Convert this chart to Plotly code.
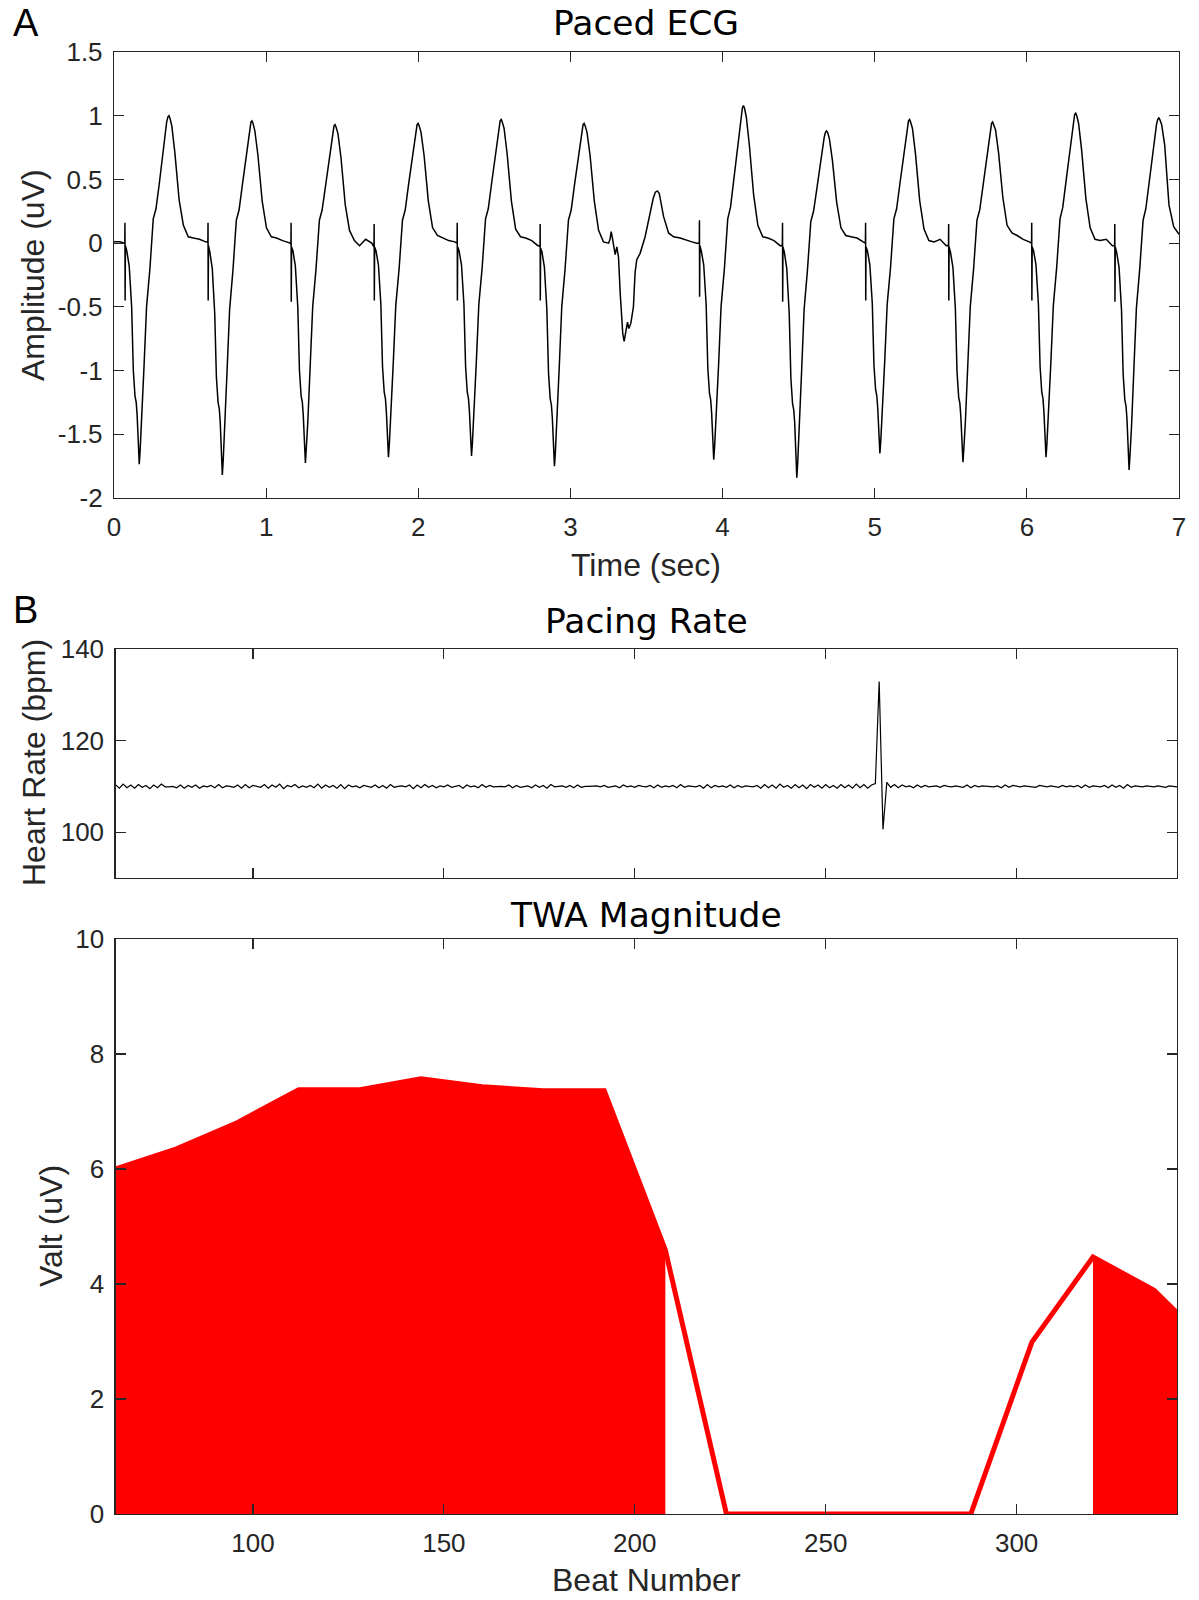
import plotly.graph_objects as go

# ---------------- Panel A: paced ECG ----------------
# pacing-spike times (s) of the paced beats
spike_times = [0.072, 0.618, 1.164, 1.710, 2.256, 2.801, 3.848, 4.394, 4.940, 5.486, 6.032, 6.578]
# sample offsets (s) relative to each pacing spike
ecg_dt = [-0.006, -0.001, 0.000, 0.001, 0.003, 0.012, 0.028, 0.044, 0.055, 0.066, 0.074,
          0.080, 0.088, 0.094, 0.100, 0.110, 0.126, 0.142, 0.164, 0.186, 0.204, 0.226, 0.248,
          0.262, 0.274, 0.282, 0.289, 0.296, 0.308, 0.328, 0.356, 0.384, 0.416, 0.450, 0.490, 0.530]
# amplitude (uV) of each beat at those offsets
beat_1 = [0.0, 0.0, 0.16, -0.45, -0.02, -0.06, -0.18, -0.50, -1.00, -1.20, -1.25, -1.35, -1.58, -1.735, -1.62, -1.40, -0.95, -0.50, -0.20, 0.19, 0.27, 0.47, 0.69, 0.84, 0.95, 0.99, 1.00, 0.98, 0.92, 0.71, 0.34, 0.14, 0.05, 0.04, 0.03, 0.01]
beat_2 = [0.01, 0.0, 0.16, -0.45, -0.02, -0.07, -0.20, -0.55, -1.05, -1.25, -1.30, -1.40, -1.65, -1.82, -1.70, -1.46, -0.98, -0.52, -0.21, 0.18, 0.26, 0.46, 0.66, 0.80, 0.91, 0.95, 0.96, 0.94, 0.88, 0.69, 0.33, 0.12, 0.05, 0.04, 0.02, 0.0]
beat_3 = [0.0, -0.01, 0.16, -0.46, -0.03, -0.06, -0.18, -0.50, -1.00, -1.20, -1.25, -1.35, -1.57, -1.725, -1.61, -1.40, -0.95, -0.50, -0.20, 0.18, 0.26, 0.45, 0.64, 0.78, 0.88, 0.92, 0.93, 0.91, 0.86, 0.67, 0.30, 0.10, 0.02, -0.02, 0.03, 0.0]
beat_4 = [-0.02, -0.01, 0.15, -0.45, -0.03, -0.06, -0.17, -0.48, -0.97, -1.17, -1.22, -1.32, -1.54, -1.68, -1.57, -1.36, -0.93, -0.49, -0.20, 0.18, 0.26, 0.46, 0.65, 0.79, 0.89, 0.93, 0.94, 0.92, 0.87, 0.69, 0.33, 0.12, 0.06, 0.04, 0.02, 0.01]
beat_5 = [0.0, 0.0, 0.16, -0.45, -0.03, -0.06, -0.17, -0.48, -0.97, -1.17, -1.22, -1.32, -1.53, -1.67, -1.56, -1.35, -0.92, -0.48, -0.19, 0.19, 0.27, 0.47, 0.67, 0.82, 0.92, 0.96, 0.97, 0.95, 0.90, 0.70, 0.33, 0.11, 0.05, 0.04, 0.02, -0.02]
beat_6 = [-0.02, -0.03, 0.15, -0.45, -0.04, -0.07, -0.19, -0.52, -1.02, -1.22, -1.27, -1.37, -1.60, -1.75, -1.64, -1.42, -0.96, -0.50, -0.20, 0.18, 0.26, 0.46, 0.65, 0.79, 0.89, 0.93, 0.94, 0.92, 0.87, 0.69, 0.33, 0.10, 0.01, 0.0]
beat_7 = [0.0, 0.0, 0.18, -0.42, -0.02, -0.06, -0.17, -0.48, -0.98, -1.18, -1.23, -1.33, -1.56, -1.70, -1.59, -1.38, -0.95, -0.50, -0.20, 0.19, 0.28, 0.50, 0.73, 0.89, 1.01, 1.06, 1.08, 1.06, 0.99, 0.77, 0.38, 0.14, 0.05, 0.04, 0.02, -0.02]
beat_8 = [-0.02, -0.01, 0.16, -0.46, -0.03, -0.07, -0.20, -0.55, -1.06, -1.26, -1.31, -1.41, -1.67, -1.84, -1.72, -1.48, -0.99, -0.52, -0.21, 0.17, 0.25, 0.43, 0.62, 0.75, 0.83, 0.87, 0.88, 0.87, 0.82, 0.65, 0.32, 0.12, 0.06, 0.05, 0.04, 0.01]
beat_9 = [0.0, 0.0, 0.16, -0.45, -0.03, -0.06, -0.17, -0.47, -0.96, -1.15, -1.20, -1.30, -1.51, -1.65, -1.55, -1.34, -0.92, -0.48, -0.19, 0.19, 0.27, 0.47, 0.67, 0.82, 0.92, 0.96, 0.97, 0.95, 0.90, 0.70, 0.33, 0.11, 0.02, 0.01, 0.03, -0.02]
beat_10 = [-0.02, -0.01, 0.15, -0.45, -0.03, -0.07, -0.19, -0.51, -1.01, -1.21, -1.26, -1.36, -1.58, -1.72, -1.61, -1.40, -0.95, -0.50, -0.20, 0.18, 0.26, 0.46, 0.66, 0.80, 0.90, 0.94, 0.95, 0.93, 0.89, 0.71, 0.36, 0.14, 0.08, 0.06, 0.03, 0.01]
beat_11 = [0.0, 0.0, 0.16, -0.45, -0.03, -0.06, -0.17, -0.48, -0.97, -1.17, -1.22, -1.32, -1.54, -1.68, -1.57, -1.36, -0.93, -0.49, -0.19, 0.19, 0.28, 0.49, 0.70, 0.85, 0.96, 1.01, 1.02, 1.00, 0.94, 0.73, 0.35, 0.12, 0.03, 0.02, 0.03, -0.02]
beat_12 = [-0.02, -0.02, 0.15, -0.46, -0.03, -0.07, -0.19, -0.52, -1.03, -1.23, -1.28, -1.38, -1.62, -1.78, -1.66, -1.44, -0.97, -0.51, -0.20, 0.18, 0.27, 0.48, 0.68, 0.83, 0.93, 0.97, 0.985, 0.97, 0.93, 0.77, 0.30]
paced_beats = [beat_1, beat_2, beat_3, beat_4, beat_5, beat_6, beat_7, beat_8, beat_9, beat_10, beat_11, beat_12]

# leading baseline, ectopic (non-paced) beat and trailing samples
lead_t = [0.0, 0.04]
lead_v = [0.01, 0.01]
ectopic_t = [3.260, 3.268, 3.276, 3.283, 3.294, 3.305, 3.316, 3.327, 3.344, 3.353, 3.366, 3.375,
             3.384, 3.397, 3.414, 3.425, 3.436, 3.458, 3.491, 3.524, 3.544, 3.558, 3.572, 3.584,
             3.598, 3.612, 3.645, 3.678, 3.721, 3.765, 3.798, 3.831]
ectopic_v = [0.03, 0.09, 0.04, 0.0, -0.09, -0.03, -0.11, -0.39, -0.71, -0.77, -0.66, -0.62,
             -0.67, -0.63, -0.50, -0.23, -0.13, -0.08, 0.05, 0.24, 0.35, 0.40, 0.41, 0.39,
             0.31, 0.21, 0.08, 0.05, 0.04, 0.02, 0.01, 0.0]
tail_t = [6.965, 7.0]
tail_v = [0.13, 0.07]

# ---------------- Panel B: pacing rate ----------------
rate_beats = list(range(64, 343))
heart_rate = [
    110.4, 109.6, 110.5, 109.7, 110.3, 109.6, 110.4, 109.8, 110.2, 109.5,
    110.3, 109.7, 110.5, 109.9, 109.9, 110.0, 109.7, 110.3, 109.6, 110.2,
    109.8, 110.3, 109.6, 110.1, 109.9, 110.2, 109.7, 110.4, 109.7, 110.1,
    110.0, 109.8, 110.3, 109.6, 110.4, 109.7, 110.2, 110.0, 109.8, 110.4,
    109.6, 110.3, 109.8, 110.5, 109.5, 110.2, 109.9, 110.4, 109.7, 110.1,
    109.8, 110.2, 109.7, 110.5, 109.6, 110.3, 109.8, 110.2, 109.6, 110.4,
    109.5, 110.3, 109.9, 110.1, 109.7, 110.2, 110.0, 109.8, 110.3, 109.7,
    110.2, 109.6, 110.4, 109.8, 110.0, 110.1, 109.9, 110.3, 109.5, 110.3,
    109.7, 110.4, 109.8, 110.2, 109.7, 110.1, 109.9, 110.3, 109.8, 110.0,
    110.2, 109.6, 110.3, 109.9, 110.1, 109.7, 110.4, 109.8, 110.2, 109.9,
    110.0, 110.0, 109.9, 110.3, 109.7, 110.2, 109.8, 110.0, 110.1, 109.7,
    110.3, 109.8, 110.2, 109.6, 110.4, 109.9, 110.0, 110.1, 109.8, 110.2,
    109.7, 110.3, 109.8, 110.0, 110.0, 110.0, 110.1, 109.9, 110.2, 109.8,
    110.0, 110.1, 109.7, 110.3, 109.9, 110.1, 109.8, 110.2, 110.0, 109.9,
    110.2, 109.7, 110.3, 109.8, 110.1, 109.9, 110.2, 109.7, 110.4, 109.8,
    110.1, 110.0, 109.9, 110.2, 109.6, 110.4, 109.7, 110.2, 109.9, 110.1,
    109.8, 110.3, 109.7, 110.2, 109.8, 110.1, 110.0, 109.9, 110.2, 109.6,
    110.4, 109.7, 110.3, 109.6, 110.5, 109.8, 110.2, 109.6, 110.4, 109.7,
    110.3, 109.5, 110.4, 109.8, 110.3, 109.6, 110.4, 109.7, 110.2, 109.6,
    110.4, 109.7, 110.3, 109.6, 110.5, 109.7, 110.4, 109.6, 110.3, 110.6,
    132.9, 100.6, 110.9, 109.8, 110.4, 109.7, 110.3, 109.9, 110.1, 109.7,
    110.3, 109.8, 110.2, 109.9, 110.0, 110.1, 109.8, 110.2, 110.0, 109.9,
    110.1, 110.0, 109.8, 110.3, 109.7, 110.2, 109.9, 110.1, 110.0, 110.0,
    109.9, 110.1, 109.7, 110.3, 109.8, 110.2, 110.0, 109.9, 110.1, 110.0,
    110.0, 109.8, 110.2, 110.0, 109.9, 110.1, 110.0, 109.8, 110.2, 109.9,
    110.1, 109.9, 110.2, 109.7, 110.3, 109.8, 110.1, 110.0, 109.9, 110.2,
    109.7, 110.3, 109.8, 110.2, 109.6, 110.4, 109.8, 110.1, 110.0, 109.9,
    110.1, 110.0, 109.9, 110.1, 110.0, 109.8, 110.1, 110.0, 109.9,
]

# ---------------- Panel B: TWA magnitude ----------------
twa_beats = [64, 80, 96, 112, 128, 144, 160, 176, 192, 208, 224, 240, 256, 272, 288, 304, 320, 336, 342]
twa_valt = [6.0, 6.35, 6.81, 7.38, 7.38, 7.57, 7.43, 7.36, 7.36, 4.59, 0.0, 0.0, 0.0, 0.0, 0.0, 2.99, 4.47, 3.89, 3.50]
# beats of the shaded (significant) segments
sig_seg1 = [64, 80, 96, 112, 128, 144, 160, 176, 192, 208]
sig_seg2 = [320, 336, 342]

ecg_ticks = [0, 1, 2, 3, 4, 5, 6, 7]
amp_ticks = [-2, -1.5, -1, -0.5, 0, 0.5, 1, 1.5]
amp_labels = ["-2", "-1.5", "-1", "-0.5", "0", "0.5", "1", "1.5"]
rate_ticks = [100, 120, 140]
beat_ticks = [100, 150, 200, 250, 300]
valt_ticks = [0, 2, 4, 6, 8, 10]

# ---------------- assemble ECG trace ----------------
ecg_t, ecg_v = list(lead_t), list(lead_v)
for k, (ts, vals) in enumerate(zip(spike_times, paced_beats)):
    ecg_t += [ts + d for d in ecg_dt[:len(vals)]]
    ecg_v += vals
    if k == 5:
        ecg_t += ectopic_t
        ecg_v += ectopic_v
ecg_t += tail_t
ecg_v += tail_v

W, H = 1199, 1600
def px(x):
    return x / W
def py(y):
    return 1 - y / H

fig = go.Figure()
fig.add_trace(go.Scatter(x=ecg_t, y=ecg_v, mode="lines", line=dict(color="black", width=1.5),
                         xaxis="x", yaxis="y", showlegend=False, hoverinfo="skip"))
fig.add_trace(go.Scatter(x=rate_beats, y=heart_rate, mode="lines", line=dict(color="black", width=1.2),
                         xaxis="x2", yaxis="y2", showlegend=False, hoverinfo="skip"))
lookup = dict(zip(twa_beats, twa_valt))
for seg in (sig_seg1, sig_seg2):
    fig.add_trace(go.Scatter(x=seg, y=[lookup[b] for b in seg], mode="lines", fill="tozeroy",
                             fillcolor="#ff0000", line=dict(color="#ff0000", width=0),
                             xaxis="x3", yaxis="y3", showlegend=False, hoverinfo="skip"))
fig.add_trace(go.Scatter(x=twa_beats, y=twa_valt, mode="lines", line=dict(color="#ff0000", width=5),
                         xaxis="x3", yaxis="y3", showlegend=False, hoverinfo="skip"))

axcol = "#262626"
tickfont = dict(family="Liberation Sans, Arial", size=26, color=axcol)
common = dict(showline=True, linecolor=axcol, linewidth=1.2, mirror="ticks", ticks="inside",
              ticklen=10, tickwidth=1.2, tickcolor=axcol, showgrid=False, zeroline=False,
              tickfont=tickfont, automargin=False)

fig.update_layout(
    template="none",
    width=W, height=H, autosize=False,
    margin=dict(l=0, r=0, t=0, b=0, pad=0, autoexpand=False),
    paper_bgcolor="white", plot_bgcolor="white", showlegend=False,
    xaxis=dict(domain=[px(114), px(1179)], range=[0, 7], tickvals=ecg_ticks, anchor="y",
               ticklabelstandoff=6, **common),
    yaxis=dict(domain=[py(498), py(52)], range=[-2, 1.5], tickvals=amp_ticks, ticktext=amp_labels,
               anchor="x", ticklabelstandoff=5, **common),
    xaxis2=dict(domain=[px(115.5), px(1177)], range=[64, 342], tickvals=beat_ticks,
                showticklabels=False, anchor="y2", **common),
    yaxis2=dict(domain=[py(878), py(649)], range=[90, 140], tickvals=rate_ticks, anchor="x2",
                ticklabelstandoff=5, **common),
    xaxis3=dict(domain=[px(115.5), px(1177)], range=[64, 342], tickvals=beat_ticks, anchor="y3",
                ticklabelstandoff=6, **common),
    yaxis3=dict(domain=[py(1514), py(939)], range=[0, 10], tickvals=valt_ticks, anchor="x3",
                ticklabelstandoff=5, **common),
)

title_font = dict(family="DejaVu Sans, Verdana", size=34.5, color="black")
label_font = dict(family="Liberation Sans, Arial", size=32, color=axcol)
panel_font = dict(family="Liberation Sans, Arial", size=38, color="black")
annots = [
    dict(text="A", x=px(25.5), y=py(23.5), font=panel_font),
    dict(text="B", x=px(25.5), y=py(610), font=panel_font),
    dict(text="Paced ECG", x=px(646), y=py(23), font=title_font),
    dict(text="Pacing Rate", x=px(646), y=py(621), font=title_font),
    dict(text="TWA Magnitude", x=px(646), y=py(915), font=title_font),
    dict(text="Time (sec)", x=px(646), y=py(565), font=label_font),
    dict(text="Beat Number", x=px(646), y=py(1580), font=label_font),
    dict(text="Amplitude (uV)", x=px(33), y=py(275), font=label_font, textangle=-90),
    dict(text="Heart Rate (bpm)", x=px(34), y=py(763), font=label_font, textangle=-90),
    dict(text="Valt (uV)", x=px(51), y=py(1226), font=label_font, textangle=-90),
]
for a in annots:
    fig.add_annotation(xref="paper", yref="paper", showarrow=False, xanchor="center",
                       yanchor="middle", **a)

fig.write_html("out.html",
               config={"displayModeBar": False, "responsive": False, "staticPlot": True},
               post_script="document.body.style.margin='0px';"
                           "document.documentElement.style.overflow='hidden';")
